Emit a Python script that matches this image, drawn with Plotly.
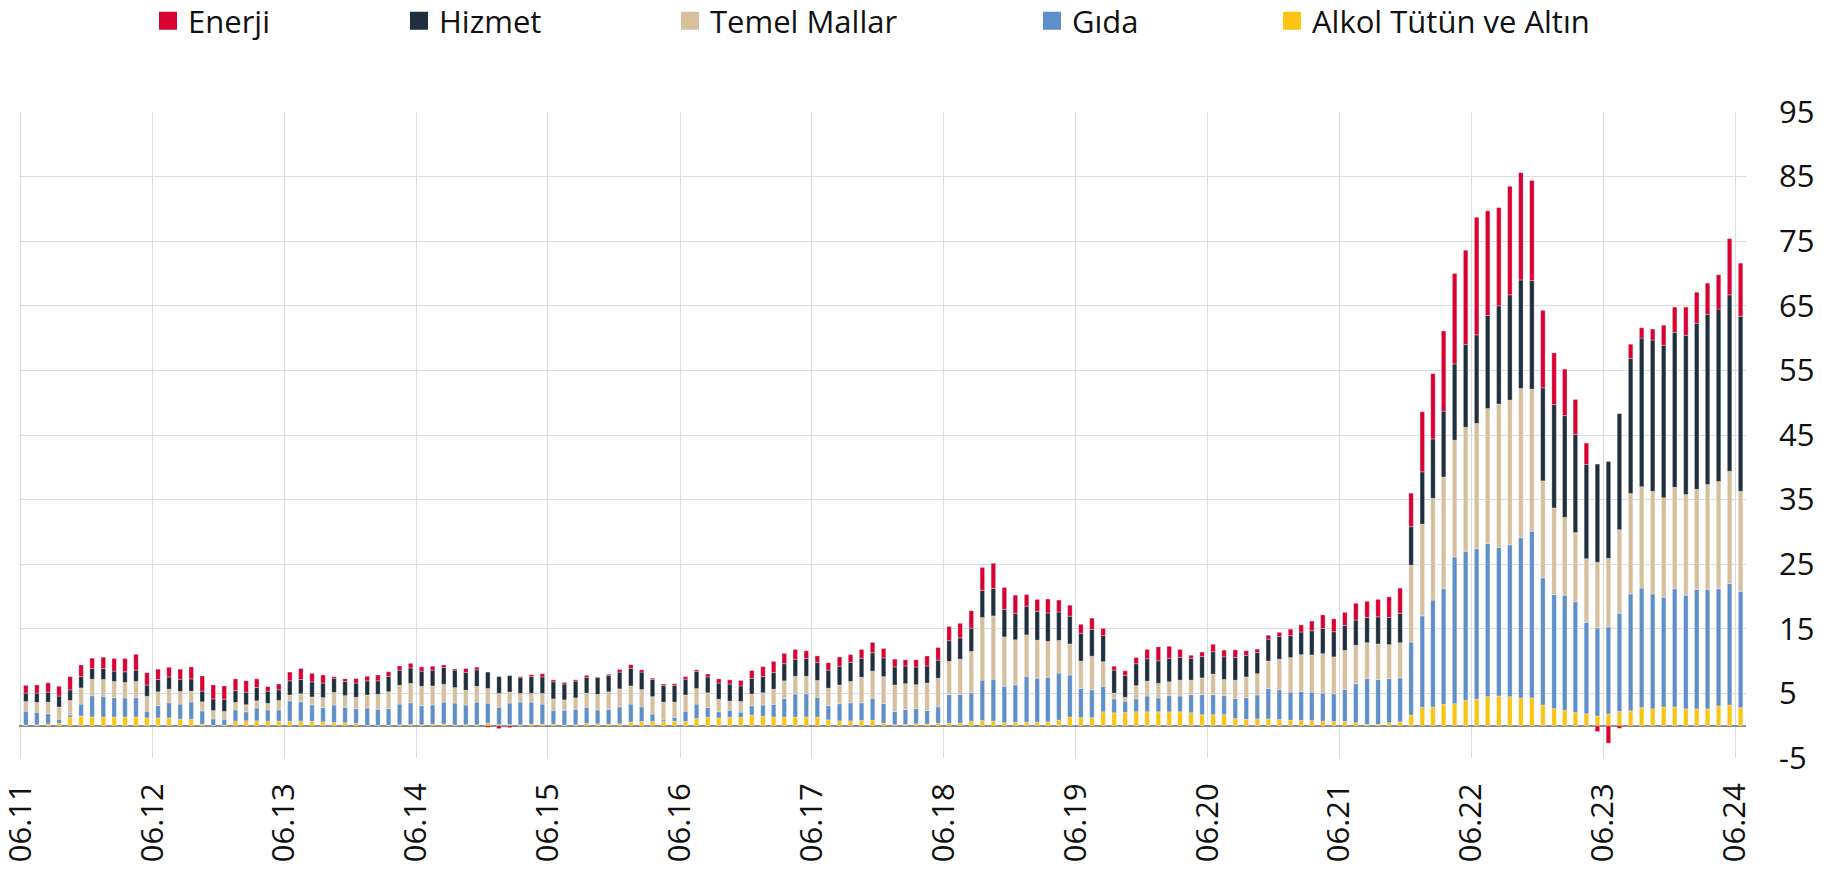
import pandas as pd
import plotly.graph_objects as go

# Monthly periods, 06.2011 - 06.2024
months = pd.date_range("2011-06-01", "2024-06-01", freq="MS")

alkol = [
    0.1, 0.15, 0.25, 0.4, 1.3, 1.5, 1.35, 1.35, 1.35, 1.35, 1.35, 1.2,
    1.2, 1.2, 1.0, 1.0, 0.25, 0.05, 0.1, 0.7, 0.75, 0.75, 0.7, 0.7,
    0.7, 0.7, 0.7, 0.6, 0.5, 0.45, 0.35, 0.05, 0.05, 0.1, 0.15, 0.2,
    0.15, 0.25, 0.25, 0.1, 0.15, 0.15, 0.4, 0.15, 0.15, 0.15, 0.25, 0.25,
    0.25, 0.1, 0.15, 0.35, 0.3, 0.25, 0.3, 0.55, 0.65, 0.65, 0.65, 0.7,
    0.65, 1.1, 1.3, 1.2, 1.3, 1.3, 1.65, 1.45, 1.35, 1.35, 1.35, 1.35,
    1.3, 0.9, 0.75, 0.75, 0.8, 0.85, 0.4, 0.15, 0.2, 0.3, 0.25, 0.4,
    0.4, 0.4, 0.7, 0.8, 0.7, 0.45, 0.5, 0.55, 0.55, 0.6, 0.85, 1.35,
    1.25, 1.25, 2.15, 2.0, 2.05, 2.15, 2.15, 2.15, 2.15, 2.15, 2.0, 1.7,
    1.7, 1.7, 1.1, 1.0, 1.05, 1.05, 0.95, 0.85, 0.8, 0.8, 0.7, 0.65,
    0.65, 0.45, 0.2, 0.2, 0.45, 0.6, 1.65, 2.85, 2.9, 3.3, 3.4, 3.9,
    4.1, 4.5, 4.6, 4.5, 4.3, 4.3, 3.2, 2.65, 2.4, 2.05, 1.85, 1.5,
    1.8, 2.2, 2.3, 2.8, 2.6, 2.9, 2.9, 2.6, 2.6, 2.6, 3.05, 3.2, 2.8,
]

gida = [
    2.15, 1.95, 1.6, 0.6, 0.35, 1.85, 3.3, 3.2, 3.0, 2.95, 3.0, 1.05,
    1.9, 2.35, 2.35, 2.7, 2.05, 1.0, 0.9, 1.75, 1.4, 2.0, 1.75, 1.75,
    3.15, 3.0, 2.5, 2.2, 2.7, 2.4, 2.3, 2.7, 2.5, 2.55, 3.2, 3.35,
    2.95, 2.95, 3.4, 3.4, 3.05, 3.5, 3.1, 2.7, 3.35, 3.5, 3.4, 3.1,
    2.15, 2.3, 2.4, 2.5, 2.15, 2.3, 2.6, 2.8, 2.25, 1.15, 0.25, 0.6,
    1.6, 2.25, 1.5, 0.95, 1.1, 0.8, 1.45, 1.75, 1.95, 2.85, 3.55, 3.6,
    3.1, 2.2, 2.65, 2.8, 2.75, 3.4, 3.05, 2.05, 2.3, 2.35, 2.1, 2.5,
    4.4, 4.45, 4.4, 6.25, 6.5, 5.65, 5.8, 7.1, 6.8, 6.9, 7.3, 6.5,
    4.5, 4.3, 3.9, 2.15, 1.75, 2.0, 2.45, 2.15, 2.5, 2.45, 2.8, 3.1,
    3.1, 2.95, 3.1, 3.35, 3.7, 4.7, 4.6, 4.35, 4.5, 4.4, 4.35, 4.3,
    4.95, 6.05, 7.1, 6.95, 6.85, 6.8, 11.3, 14.15, 16.55, 17.9, 22.7, 23.1,
    23.3, 23.7, 23.0, 23.5, 24.8, 25.8, 19.7, 17.65, 17.8, 17.15, 14.15, 13.65,
    13.5, 15.2, 18.1, 18.5, 17.8, 17.0, 18.3, 17.6, 18.5, 18.5, 18.15, 18.8, 18.0,
]

temel = [
    1.5, 1.5, 1.8, 1.9, 2.25, 2.5, 2.55, 2.6, 2.5, 2.4, 2.5, 2.3,
    2.15, 2.1, 1.95, 1.65, 1.4, 1.3, 1.2, 1.15, 1.1, 1.1, 1.0, 1.45,
    0.9, 1.25, 1.25, 1.55, 1.95, 1.8, 1.75, 2.0, 2.3, 2.6, 2.9, 3.0,
    3.0, 2.95, 2.75, 2.4, 2.3, 2.45, 2.25, 2.15, 1.7, 1.35, 1.35, 1.65,
    1.75, 1.6, 1.75, 2.2, 2.4, 2.7, 2.8, 2.8, 2.7, 2.7, 2.75, 2.35,
    2.5, 2.4, 2.3, 1.95, 1.4, 1.65, 1.8, 1.9, 2.35, 2.75, 2.75, 2.7,
    2.6, 2.7, 2.9, 3.3, 3.95, 4.2, 4.15, 4.1, 4.0, 3.7, 4.25, 4.45,
    5.15, 5.45, 6.4, 9.7, 9.8, 7.65, 7.0, 6.4, 5.9, 5.55, 5.05, 4.8,
    4.25, 5.2, 3.85, 0.9, 0.6, 2.05, 2.3, 2.25, 2.15, 2.45, 2.25, 2.6,
    3.2, 2.5, 2.85, 3.2, 3.3, 4.25, 4.75, 5.35, 5.7, 5.75, 6.1, 5.7,
    6.05, 5.95, 5.55, 5.5, 5.25, 5.45, 11.9, 14.2, 15.75, 17.3, 18.1, 19.2,
    19.4, 20.9, 22.2, 22.4, 23.1, 22.0, 15.0, 13.4, 12.05, 10.7, 9.85, 10.15,
    10.6, 12.95, 15.55, 15.7, 15.9, 15.4, 15.7, 15.6, 15.5, 16.25, 16.6, 17.4, 15.5,
]

hizmet = [
    1.3, 1.45, 1.55, 1.7, 1.65, 1.75, 1.65, 1.7, 1.6, 1.65, 1.75, 1.75,
    1.9, 1.9, 1.9, 1.9, 1.65, 1.8, 1.9, 1.85, 1.95, 2.05, 1.9, 1.65,
    2.2, 2.2, 2.35, 2.25, 2.2, 2.2, 2.2, 2.2, 2.1, 2.4, 2.35, 2.4,
    2.35, 2.45, 2.6, 2.7, 2.75, 2.55, 2.55, 2.6, 2.55, 2.5, 2.6, 2.55,
    2.65, 2.45, 2.6, 2.45, 2.6, 2.5, 2.6, 2.75, 2.7, 2.65, 2.55, 2.6,
    2.45, 2.65, 2.45, 2.5, 2.65, 2.4, 2.45, 2.5, 2.6, 2.65, 2.65, 2.75,
    2.8, 2.8, 2.9, 2.95, 2.95, 2.85, 2.9, 2.8, 2.75, 2.75, 2.65, 2.8,
    3.2, 3.3, 3.6, 4.2, 4.25, 4.25, 4.1, 4.45, 4.45, 4.4, 4.4, 4.3,
    4.3, 4.15, 4.05, 3.55, 3.4, 3.4, 3.45, 3.5, 3.65, 3.55, 3.4, 3.3,
    3.45, 3.5, 3.5, 3.35, 3.3, 3.4, 3.5, 3.4, 3.5, 3.75, 3.9, 3.9,
    3.85, 3.9, 3.9, 4.2, 4.2, 4.55, 5.95, 8.1, 9.2, 10.2, 11.8, 12.8,
    13.7, 14.4, 15.2, 16.3, 16.8, 16.8, 14.4, 16.0, 15.75, 15.2, 14.6, 15.2,
    15.0, 17.95, 20.9, 23.0, 23.4, 23.6, 24.0, 24.65, 25.7, 26.35, 26.7, 27.3, 27.1,
]

enerji = [
    1.2, 1.25, 1.45, 1.5, 2.05, 1.8, 1.6, 1.75, 1.95, 2.05, 2.45, 1.9,
    1.6, 1.5, 1.55, 1.85, 2.35, 2.15, 2.05, 1.8, 1.75, 1.35, 0.7, 0.9,
    1.35, 1.7, 1.3, 1.25, 0.25, 0.4, 0.7, 0.7, 0.9, 0.7, 0.65, 0.7,
    0.65, 0.6, 0.4, 0.2, 0.6, 0.4, -0.25, -0.45, -0.3, 0.1, 0.3, 0.5,
    0.3, 0.25, 0.2, 0.3, 0.1, 0.2, 0.4, 0.55, 0.35, 0.2, 0.25, 0.25,
    0.4, 0.25, 0.45, 0.65, 0.65, 0.85, 1.2, 1.55, 1.7, 1.6, 1.5, 1.2,
    1.0, 1.15, 1.45, 1.2, 1.35, 1.6, 1.45, 1.2, 0.95, 1.1, 1.55, 1.95,
    2.2, 2.25, 2.7, 3.55, 3.9, 3.4, 2.8, 1.8, 1.85, 2.15, 1.85, 1.7,
    1.4, 1.75, 1.1, 0.6, 0.7, 0.95, 1.45, 2.15, 1.85, 1.2, 0.45, 0.7,
    1.15, 1.05, 1.2, 0.7, 0.5, 0.6, 0.65, 1.0, 1.1, 1.5, 2.1, 2.0,
    2.05, 2.6, 2.5, 2.7, 3.2, 3.9, 5.2, 9.3, 10.1, 12.4, 14.0, 14.6,
    18.2, 16.2, 15.2, 16.8, 16.6, 15.5, 12.0, 8.0, 7.2, 5.4, 3.3, -0.9,
    -2.7, -0.4, 2.2, 1.6, 1.7, 3.1, 3.9, 4.35, 4.8, 4.8, 5.3, 8.7, 8.2,
]

# (name, values, colour) - stacking order bottom to top
series = [
    ("Alkol Tütün ve Altın", alkol, "#FBC313"),
    ("Gıda", gida, "#5E8FCA"),
    ("Temel Mallar", temel, "#D6BF9D"),
    ("Hizmet", hizmet, "#1F2F3D"),
    ("Enerji", enerji, "#D90032"),
]
legend_order = ["Enerji", "Hizmet", "Temel Mallar", "Gıda", "Alkol Tütün ve Altın"]
legend_x_px = [148, 399, 670, 1032, 1272]

y_ticks = [-5, 5, 15, 25, 35, 45, 55, 65, 75, 85, 95]

FONT = "Open Sans"
W, H = 1844, 869

fig = go.Figure()
for name, vals, col in series:
    assert len(vals) == len(months)
    fig.add_trace(go.Bar(
        x=months, y=vals, name=name,
        xperiod="M1", xperiodalignment="middle",
        marker=dict(color=col, line=dict(color="rgba(255,255,255,0.6)", width=0.5)),
        showlegend=False,
    ))

colors = {n: c for n, _, c in series}
legend_layout = {}
for i, (name, px) in enumerate(zip(legend_order, legend_x_px)):
    key = "legend" if i == 0 else f"legend{i + 1}"
    fig.add_trace(go.Scatter(
        x=[None], y=[None], mode="markers", name=name,
        marker=dict(symbol="square", size=16, color=colors[name],
                    line=dict(color=colors[name], width=2)),
        showlegend=True, legend=key, hoverinfo="skip",
    ))
    legend_layout[key] = dict(
        xref="container", yref="container",
        x=px / W, y=1 - 21 / H, xanchor="left", yanchor="middle",
        orientation="h", bgcolor="rgba(0,0,0,0)",
        font=dict(family=FONT, size=31, color="#111111"),
        itemsizing="trace",
    )

fig.update_layout(
    width=W, height=H,
    barmode="relative", bargap=0.58,
    plot_bgcolor="white", paper_bgcolor="white",
    margin=dict(l=19, r=98, t=112, b=111, autoexpand=False),
    font=dict(family=FONT, size=31, color="#111111"),
    **legend_layout,
)

fig.update_xaxes(
    type="date",
    range=["2011-05-28", "2024-07-01"],
    tick0="2011-06-01", dtick="M12", tickformat="%m.%y",
    tickangle=-90,
    showgrid=True, gridcolor="#DCDCDC", gridwidth=1,
    showline=False, zeroline=False, ticks="",
    ticklabelstandoff=18, ticklabeloverflow="allow",
    tickfont=dict(family=FONT, size=31, color="#111111"),
)
fig.update_yaxes(
    side="right",
    range=[-5, 95],
    tickmode="array", tickvals=y_ticks, ticktext=[str(v) for v in y_ticks],
    showgrid=True, gridcolor="#DCDCDC", gridwidth=1,
    zeroline=True, zerolinecolor="#8C8C8C", zerolinewidth=1.5,
    showline=False, ticks="",
    ticklabelstandoff=32,
    tickfont=dict(family=FONT, size=31, color="#111111"),
)

fig.write_html(
    "out.html",
    config={"displayModeBar": False},
    post_script="document.body.style.margin='0px';document.body.style.overflow='hidden';",
)
